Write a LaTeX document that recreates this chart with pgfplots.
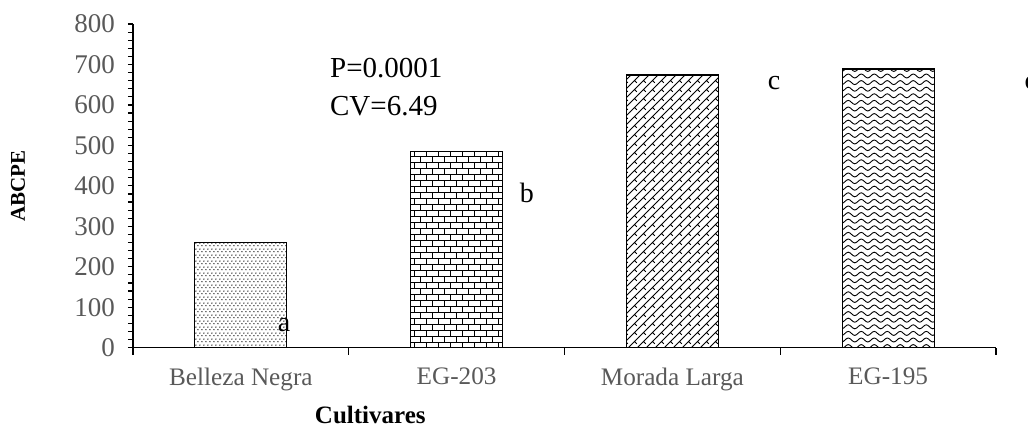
\documentclass[border=0pt]{standalone}
\usepackage{fontspec}
\setmainfont{Liberation Serif}
\usepackage{pgfplots}
\pgfplotsset{compat=1.18}
\usetikzlibrary{patterns,patterns.meta}
\definecolor{tickgray}{HTML}{595959}

\tikzdeclarepattern{
  name=mydots, type=uncolored,
  bounding box={(0pt,0pt) and (2.2pt,3pt)},
  tile size={(2.2pt,3pt)},
  code={\fill (0.55pt,0.75pt) circle (0.4pt); \fill (1.65pt,2.25pt) circle (0.4pt);}
}
\tikzdeclarepattern{
  name=mybricks, type=uncolored,
  bounding box={(-0.3pt,-0.3pt) and (6.3pt,6.3pt)},
  tile size={(6pt,6pt)},
  code={\draw[line width=0.5pt] (0,0)--(6pt,0) (0,3pt)--(6pt,3pt) (0,0)--(0,3pt) (3pt,3pt)--(3pt,6pt);}
}
\tikzdeclarepattern{
  name=myshingle, type=uncolored,
  bounding box={(-0.3pt,-0.3pt) and (4.8pt,4.8pt)},
  tile size={(4.5pt,4.5pt)},
  code={\draw[line width=0.45pt] (0,0)--(4.5pt,4.5pt) (2.25pt,2.25pt)--(3.4pt,1.1pt);}
}
\tikzdeclarepattern{
  name=mywaves, type=uncolored,
  bounding box={(0pt,-0.8pt) and (6.5pt,2.2pt)},
  tile size={(6.5pt,3.3pt)},
  code={\draw[line width=0.45pt] (0,0.6pt) sin (1.625pt,1.6pt) cos (3.25pt,0.6pt) sin (4.875pt,-0.4pt) cos (6.5pt,0.6pt);}
}

\begin{document}
\begin{tikzpicture}
\useasboundingbox (-66.5pt,-39.65pt) rectangle (447.5pt,173.85pt);
\begin{axis}[
  at={(0,0)}, anchor=south west,
  scale only axis, width=431.5pt, height=161.85pt,
  xmin=-0.5, xmax=3.5, ymin=0, ymax=800,
  clip=false,
  axis lines*=left,
  axis line style={black, line width=0.75pt},
  xtick={0,1,2,3},
  xticklabels={Belleza Negra, EG-203, Morada Larga, EG-195},
  major x tick style={draw=none},
  extra x ticks={-0.5,0.5,1.5,2.5,3.5},
  extra x tick labels={},
  extra x tick style={major tick length=3.5pt, major x tick style={draw=black, line width=0.6pt}},
  ytick={0,100,...,800},
  minor y tick num=4,
  tick align=outside,
  major tick length=2.5pt, minor tick length=2.5pt,
  tick style={black, line width=0.6pt},
  /pgf/number format/assume math mode=true,
  yticklabel style={color=tickgray, font=\fontsize{13.5}{15}\selectfont, xshift=-3pt},
  xticklabel style={color=tickgray, font=\fontsize{12.6}{14}\selectfont, yshift=-4pt},
  ylabel={ABCPE},
  xlabel={Cultivares},
  every axis y label/.style={at={(axis description cs:-0.1333,0.5)}, rotate=90, anchor=center, font=\fontsize{10.5}{12}\selectfont\bfseries},
  every axis x label/.style={at={(axis description cs:0.275,-0.208)}, anchor=center, font=\fontsize{12.5}{14}\selectfont\bfseries},
]
\addplot[ybar, bar width=46pt, bar shift=0pt, draw=black, line width=0.6pt, pattern=mydots, pattern color=black] coordinates {(0,260)};
\addplot[ybar, bar width=46pt, bar shift=0pt, draw=black, line width=0.6pt, pattern=mybricks, pattern color=black] coordinates {(1,484)};
\addplot[ybar, bar width=46pt, bar shift=0pt, draw=black, line width=0.6pt, pattern=myshingle, pattern color=black] coordinates {(2,674)};
\addplot[ybar, bar width=46pt, bar shift=0pt, draw=black, line width=0.6pt, pattern=mywaves, pattern color=black] coordinates {(3,689)};

\node[anchor=base west, font=\fontsize{14.5}{17}\selectfont] at (axis cs:0.381,666.6) {P=0.0001};
\node[anchor=base west, font=\fontsize{14.5}{17}\selectfont] at (axis cs:0.381,575) {CV=6.49};
\node[anchor=base, font=\fontsize{14}{17}\selectfont] at (axis cs:0.2,39) {a};
\node[anchor=base, font=\fontsize{14}{17}\selectfont] at (axis cs:1.326,360) {b};
\node[anchor=base, font=\fontsize{14}{17}\selectfont] at (axis cs:2.471,637) {c};
\node[anchor=base, overlay, font=\fontsize{14}{17}\selectfont] at (axis cs:3.662,637) {c};
\end{axis}
\end{tikzpicture}
\end{document}
